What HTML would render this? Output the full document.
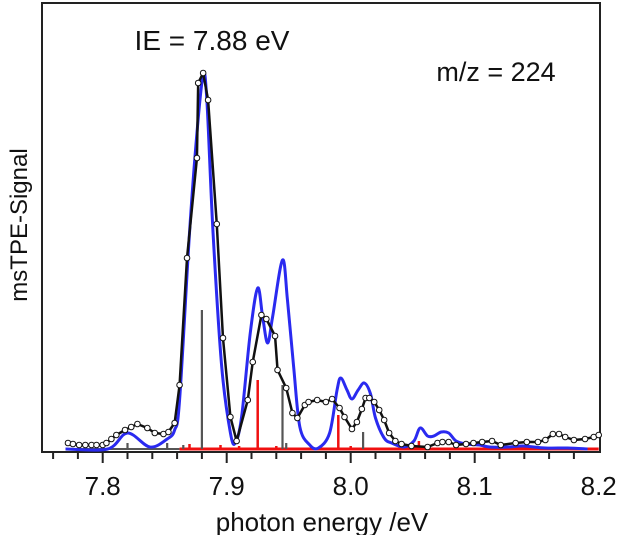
<!DOCTYPE html>
<html><head><meta charset="utf-8"><style>
html,body{margin:0;padding:0;background:#fff;width:621px;height:535px;overflow:hidden}
svg{display:block;font-family:"Liberation Sans",Arial,sans-serif}
</style></head><body>
<svg id="chart" width="621" height="535" viewBox="0 0 621 535">
<rect x="42" y="3" width="558" height="449" fill="none" stroke="#222" stroke-width="2"/>
<g id="ticks"></g>
<g id="sticks"></g>
<g id="series"></g>
<text x="212" y="50" font-size="28" text-anchor="middle" fill="#111">IE = 7.88 eV</text>
<text x="496" y="81" font-size="27" text-anchor="middle" fill="#111">m/z = 224</text>
<text x="322" y="531" font-size="26" text-anchor="middle" fill="#111">photon energy /eV</text>
<text transform="translate(27,225) rotate(-90)" font-size="24" text-anchor="middle" fill="#111">msTPE-Signal</text>
</svg>
<script>
const tickLabels=[7.8,7.9,8.0,8.1,8.2];
const expE=[7.772,7.776,7.781,7.786,7.791,7.795,7.800,7.803,7.807,7.811,7.818,7.823,7.828,7.836,7.842,7.849,7.853,7.858,7.862,7.868,7.876,7.877,7.881,7.885,7.892,7.897,7.903,7.908,7.917,7.921,7.928,7.932,7.939,7.941,7.948,7.953,7.957,7.963,7.966,7.973,7.980,7.985,7.991,7.995,8.001,8.005,8.009,8.012,8.015,8.019,8.023,8.027,8.031,8.036,8.041,8.049,8.062,8.070,8.074,8.079,8.085,8.093,8.099,8.106,8.114,8.121,8.133,8.142,8.151,8.157,8.163,8.168,8.173,8.180,8.189,8.196,8.200];
const expSignal=[6,5,4,4,4,4,4,6,10,14,19,22,25,21,16,15,17,26,64,191,291,366,376,349,225,111,32,8,49,87,134,130,113,79,61,36,31,44,47,49,47,50,41,32,20,27,40,51,51,47,39,29,16,8,5,3,2,6,7,7,4,5,6,7,8,4,6,7,7,9,15,15,12,9,10,12,14];
const simE=[7.770,7.804,7.820,7.838,7.852,7.858,7.862,7.870,7.876,7.881,7.884,7.889,7.896,7.903,7.907,7.912,7.919,7.925,7.929,7.933,7.937,7.945,7.949,7.954,7.959,7.967,7.974,7.983,7.989,7.992,7.997,8.001,8.006,8.011,8.016,8.020,8.027,8.033,8.043,8.051,8.056,8.062,8.067,8.073,8.079,8.085,8.093,8.104,8.112,8.127,8.139,8.157,8.175,8.191];
const simSignal=[0,0,16,2,10,19,49,216,316,374,349,216,82,16,6,32,116,161,132,106,132,189,149,82,22,4,1,16,59,71,59,50,59,66,55,31,11,6,2,8,21,13,13,17,16,8,5,4,2,2,3,1,1,0];
const greyStickE=[7.820,7.852,7.865,7.880,7.945,7.948,8.010];
const greyStickH=[6,6,4,139,64,6,17];
const redStickE=[7.870,7.895,7.910,7.925,7.940,7.990,8.000,8.050,8.055];
const redStickH=[5,4,3,69,3,34,3,3,8];

const X=v=>102.7+(v-7.8)*1240;
const Y=h=>449-h;
const NS='http://www.w3.org/2000/svg';
function mk(tag,attrs,parent){const e=document.createElementNS(NS,tag);for(const k in attrs)e.setAttribute(k,attrs[k]);parent.appendChild(e);return e;}
const tg=document.getElementById('ticks');
for(let i=0;i<=21;i++){const v=7.76+i*0.02;if(v>8.2001)break;const major=Math.abs((v*10)-Math.round(v*10))<1e-6;
 const t=mk('line',{x1:X(v),x2:X(v),y1:452,y2:major?463:459,stroke:'#222','stroke-width':2},tg);
 
 }
tickLabels.forEach(v=>{const t=mk('text',{x:X(v),y:495,'font-size':26,'text-anchor':'middle',fill:'#111'},tg);t.textContent=v.toFixed(1);
 
 });
const sg=document.getElementById('sticks');
const gb=mk('line',{x1:X(7.77),x2:X(7.862),y1:449,y2:449,stroke:'#555','stroke-width':2},sg);


const rb=mk('line',{x1:X(7.862),x2:X(8.2),y1:449,y2:449,stroke:'#f01010','stroke-width':3},sg);


greyStickE.forEach((e,i)=>{const l=mk('line',{x1:X(e),x2:X(e),y1:449,y2:Y(greyStickH[i]),stroke:'#555','stroke-width':2.2},sg);
 
 });
redStickE.forEach((e,i)=>{const l=mk('line',{x1:X(e),x2:X(e),y1:449,y2:Y(redStickH[i]),stroke:'#f01010','stroke-width':2.5},sg);
 
 });
function smooth(xs,ys){const p=xs.map((x,i)=>[X(x),Y(ys[i])]);let d='M'+p[0][0]+','+p[0][1];
 for(let i=0;i<p.length-1;i++){const p0=p[Math.max(0,i-1)],p1=p[i],p2=p[i+1],p3=p[Math.min(p.length-1,i+2)];
  const c1=[p1[0]+(p2[0]-p0[0])/6,p1[1]+(p2[1]-p0[1])/6],c2=[p2[0]-(p3[0]-p1[0])/6,p2[1]-(p3[1]-p1[1])/6];
  d+=' C'+c1+' '+c2+' '+p2;}return d;}
const g=document.getElementById('series');
const bl=mk('path',{d:smooth(simE,simSignal),fill:'none',stroke:'#2a2af0','stroke-width':3},g);


const el=mk('polyline',{points:expE.map((e,i)=>X(e)+','+Y(expSignal[i])).join(' '),fill:'none',stroke:'#111','stroke-width':2.5,'stroke-linejoin':'round'},g);


expE.forEach((e,i)=>{const c=mk('circle',{cx:X(e),cy:Y(expSignal[i]),r:2.8,fill:'#fff',stroke:'#111','stroke-width':1},g);
 
 });
</script>
</body></html>
